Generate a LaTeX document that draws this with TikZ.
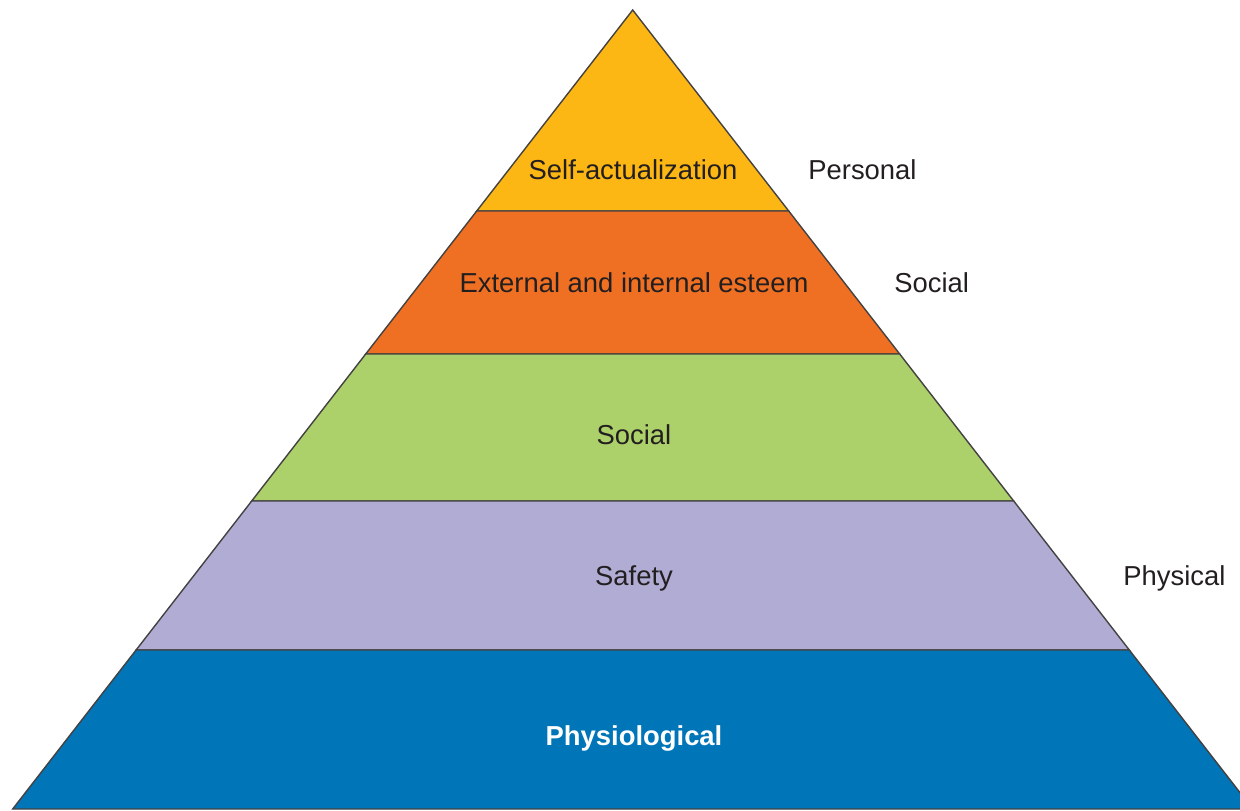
\documentclass[tikz,border=0pt]{standalone}
\usepackage{fontspec}
\setmainfont{Liberation Sans}
\definecolor{selfc}{RGB}{253,183,20}
\definecolor{esteemc}{RGB}{240,112,35}
\definecolor{socialc}{RGB}{172,208,106}
\definecolor{safetyc}{RGB}{176,172,212}
\definecolor{physc}{RGB}{0,117,183}
\definecolor{inkc}{RGB}{35,31,32}
\begin{document}
\begin{tikzpicture}[x=0.5pt,y=-0.5pt,
  layer/.style={draw=inkc!85,line width=0.7pt,line join=miter},
  lvl/.style={font=\fontsize{13.7}{16}\selectfont,text=inkc,inner sep=0pt},
  side/.style={font=\fontsize{13.7}{16}\selectfont,text=inkc,inner sep=0pt}]
\useasboundingbox (0,0) rectangle (1240,810);
\clip (0,0) rectangle (1240,810);
% corners of the layer boundaries, left and right edges
\coordinate (apex) at (632.7,10);
\coordinate (l1) at (476.7,211); \coordinate (r1) at (788.7,211);
\coordinate (l2) at (365.7,354); \coordinate (r2) at (899.7,354);
\coordinate (l3) at (251.7,501); \coordinate (r3) at (1013.7,501);
\coordinate (l4) at (136.1,650); \coordinate (r4) at (1129.3,650);
\coordinate (l5) at (12.7,809);  \coordinate (r5) at (1252.7,809);
% the five layers, top to bottom
\filldraw[layer,fill=selfc] (apex) -- (r1) -- (l1) -- cycle;
\filldraw[layer,fill=esteemc] (l1) -- (r1) -- (r2) -- (l2) -- cycle;
\filldraw[layer,fill=socialc] (l2) -- (r2) -- (r3) -- (l3) -- cycle;
\filldraw[layer,fill=safetyc] (l3) -- (r3) -- (r4) -- (l4) -- cycle;
\filldraw[layer,fill=physc] (l4) -- (r4) -- (r5) -- (l5) -- cycle;
% layer labels
\node[lvl] (t1) at (633,170) {Self-actualization};
\node[lvl] (t2) at (634,283) {External and internal esteem};
\node[lvl] (t3) at (634,435) {Social};
\node[lvl] (t4) at (634,578) {Safety};
\node[lvl,text=white,font=\fontsize{13.7}{16}\selectfont\bfseries] (t5) at (634,738) {Physiological};
% grouping labels at the right
\node[side,anchor=west] (g1) at (808,170) {Personal};
\node[side,anchor=west] (g2) at (894,283) {Social};
\node[side,anchor=west] (g3) at (1123,578) {Physical};
\end{tikzpicture}
\end{document}
